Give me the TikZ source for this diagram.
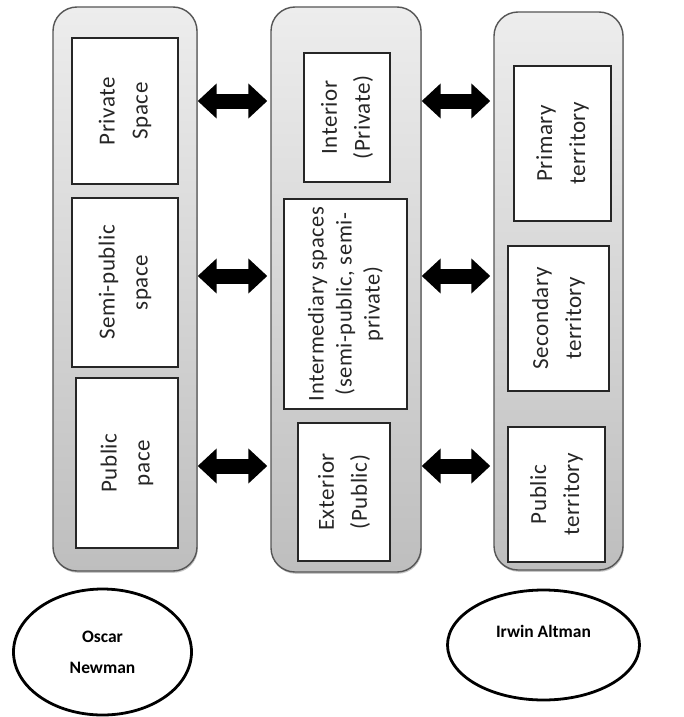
\documentclass[tikz,border=0pt]{standalone}
\usepackage{fontspec}
\setmainfont{Carlito}
\newfontfamily\boxfont{Carlito}[LetterSpace=2.5]
\usetikzlibrary{arrows.meta,shapes.geometric,shadows}

\definecolor{colborder}{HTML}{555555}
\definecolor{coltop}{HTML}{EDEDED}
\definecolor{colbot}{HTML}{BEBEBE}

\tikzset{
  column/.style={rectangle, rounded corners=24pt, draw=colborder, line width=1.4pt,
    top color=coltop, bottom color=colbot, inner sep=0pt,
    drop shadow={shadow xshift=0.8pt, shadow yshift=-1.8pt, opacity=0.45}},
  itembox/.style={rectangle, draw=black!85, line width=1.3pt, fill=white,
    rotate=90, align=center, inner sep=0pt, text=black!85,
    font=\boxfont\fontsize{23}{33}\selectfont},
  person/.style={ellipse, draw=black, line width=2.8pt, inner sep=0pt,
    align=center, font=\bfseries\fontsize{17.5}{31}\selectfont},
  dblarrow/.style={line width=15pt, draw=black,
    {Triangle[length=19pt,width=34pt]}-{Triangle[length=19pt,width=34pt]}}
}

\begin{document}
\begin{tikzpicture}[x=1pt,y=-1pt]
\useasboundingbox (0,0) rectangle (683,717);

% the three columns
\node[column, minimum width=144pt, minimum height=564pt] (c1) at (125,289) {};
\node[column, minimum width=150pt, minimum height=565pt] (c2) at (346,289.5) {};
\node[column, minimum width=129pt, minimum height=558pt] (c3) at (558.5,291) {};

% Newman's spaces
\node[itembox, minimum width=146pt, minimum height=106pt] (n1) at (125,111) {Private\\Space};
\node[itembox, minimum width=169pt, minimum height=106pt] (n2) at (125,282.5) {Semi-public\\space};
\node[itembox, minimum width=170pt, minimum height=102pt] (n3) at (127,463) {Public\\pace};

% intermediate spaces
\node[itembox, minimum width=129pt, minimum height=86pt] (m1) at (347,117.5) {Interior\\(Private)};
\node[itembox, minimum width=210pt, minimum height=123pt,
      font=\boxfont\fontsize{22.5}{28}\selectfont] (m2) at (345.5,304)
      {Intermediary spaces\\(semi-public, semi-\\private)};
\node[itembox, minimum width=138pt, minimum height=92pt] (m3) at (344,492) {Exterior\\(Public)};

% Altman's territories
\node[itembox, minimum width=155pt, minimum height=97pt] (a1) at (562.5,143.5) {Primary\\territory};
\node[itembox, minimum width=145pt, minimum height=101pt] (a2) at (558.5,318.5) {Secondary\\territory};
\node[itembox, minimum width=135pt, minimum height=97pt] (a3) at (556.5,494.5) {Public\\territory};

% rows of the double arrows
\coordinate (r1) at (0,101);
\coordinate (r2) at (0,276);
\coordinate (r3) at (0,466);

\foreach \r in {r1,r2,r3}{
  \draw[dblarrow, shorten >=3pt] (c1.east |- \r) -- (c2.west |- \r);
  \draw[dblarrow, shorten >=3pt] (c2.east |- \r) -- (c3.west |- \r);
}

% authors
\node[person, minimum width=178pt, minimum height=126pt] (newman) at (102.5,652) {Oscar\\Newman};
\node[person, minimum width=192pt, minimum height=110pt] (altman) at (543.5,645) {Irwin Altman\\[-4pt]\mbox{}};
\end{tikzpicture}
\end{document}
